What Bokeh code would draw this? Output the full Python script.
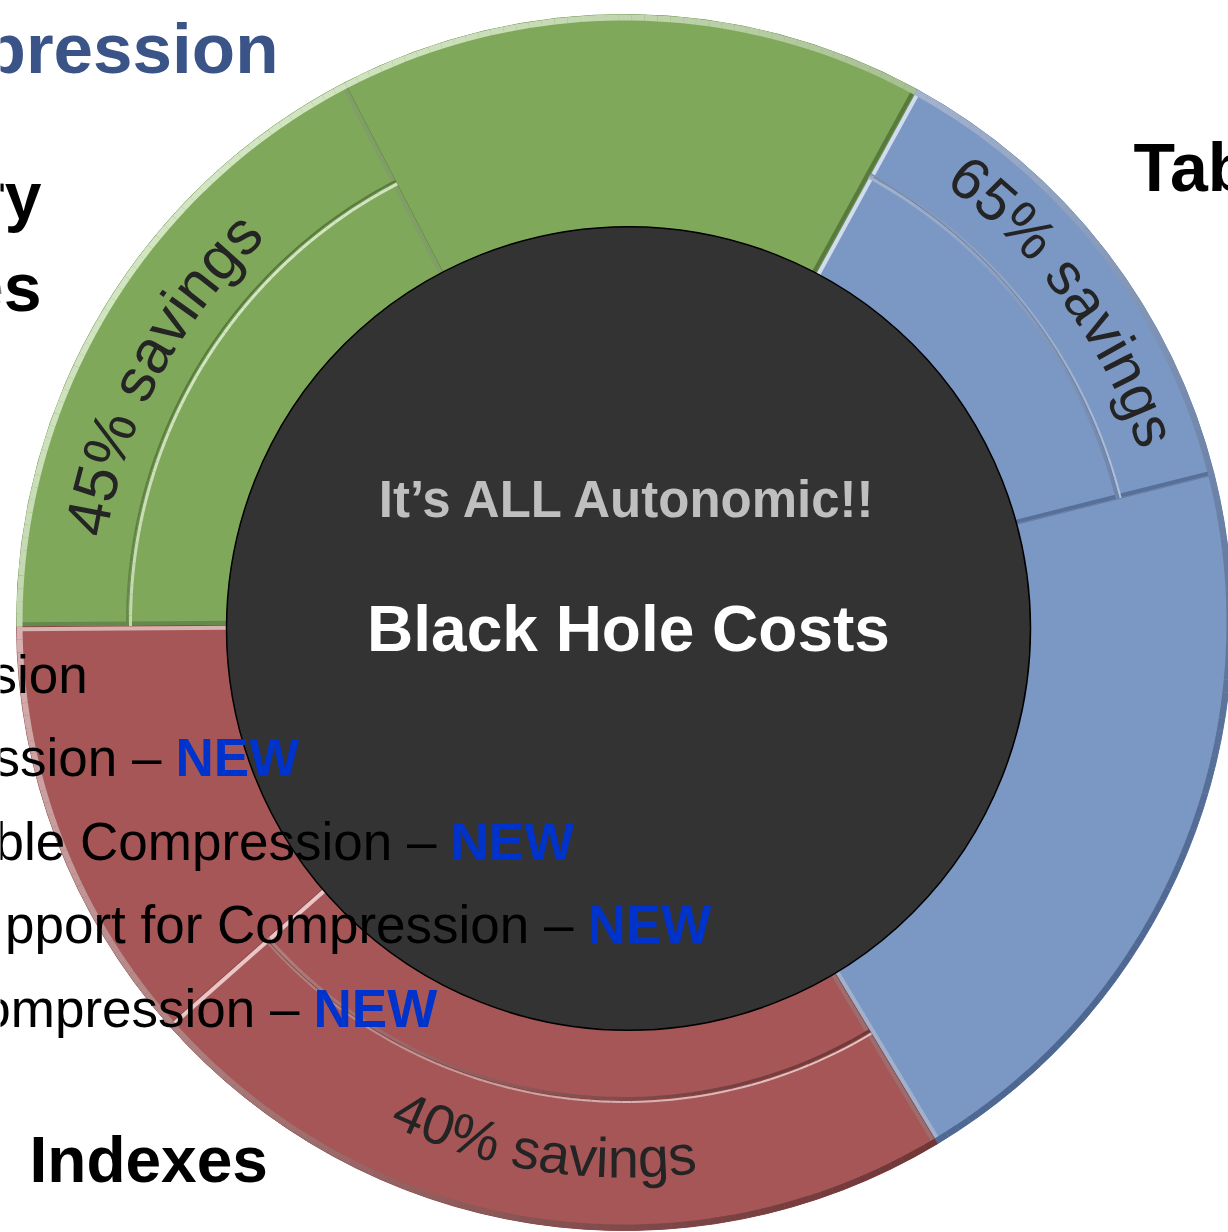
import math
from bokeh.plotting import figure
from bokeh.models import Range1d, ColumnDataSource
from bokeh.core.properties import value
from bokeh.embed import file_html
from bokeh.resources import INLINE

# ---------------- data ----------------
# ring parts, listed anticlockwise starting at the lower right
part_group = ["Tables", "Tables", "Temporary", "Temporary", "Indexes", "Indexes"]
part_kind = ["full", "savings", "full", "savings", "full", "savings"]
part_share = [20.3, 13.1, 15.6, 17.5, 11.4, 22.1]      # percent of the ring

group_names = ["Tables", "Temporary", "Indexes"]
group_savings = [65, 45, 40]                           # "% savings" labels

center_sub = "It\u2019s ALL Autonomic!!"
center_title = "Black Hole Costs"

list_items = ["sion", "ssion \u2013", "ble Compression \u2013",
              "pport for Compression \u2013", "ompression \u2013"]
list_new = ["", "NEW", "NEW", "NEW", "NEW"]

side_labels = ["pression", "ry", "es", "Tab", "Indexes"]

# ---------------- layout / style ----------------
W, H = 1228, 1232
HX, HY = 628.0, H - 628.0          # black hole centre
RX, RY = 624.0, H - 622.0          # ring centre
R_HOLE, R_OUT = 402.0, 608.0
START_DEG = -59.0
LIGHT_DIR = math.radians(135)
BASE_FIX = 0.365                   # baseline correction (fraction of font size)

style = {
    "Tables":    dict(fill="#7B97C3", light="#D4DEEF", dark="#4E6791", split=510.0),
    "Temporary": dict(fill="#80A85A", light="#D3E6C3", dark="#557839", split=496.0),
    "Indexes":   dict(fill="#A65656", light="#EAC6C6", dark="#6E3535", split=478.0),
}

SANS = "Liberation Sans"


def hex2rgb(h):
    return tuple(int(h[i:i + 2], 16) for i in (1, 3, 5))


def blend(c1, c2, t):
    a, b = hex2rgb(c1), hex2rgb(c2)
    return "#%02x%02x%02x" % tuple(int(round(a[i] + (b[i] - a[i]) * t)) for i in range(3))


def lit(normal):
    return (math.cos(normal - LIGHT_DIR) + 1) / 2


p = figure(width=W, height=H, x_range=Range1d(0, W), y_range=Range1d(0, H),
           output_backend="svg", toolbar_location=None, min_border=0)
p.axis.visible = False
p.grid.visible = False
p.outline_line_color = None
p.background_fill_color = "white"
p.border_fill_color = "white"


def label(x, y_pix, text, size, color, align="left", bold=False):
    """Place text whose alphabetic baseline sits at picture row y_pix."""
    p.text(x=[x], y=[H - y_pix + BASE_FIX * size], text=[text], text_align=align,
           text_baseline="alphabetic", text_font=value(SANS),
           text_font_style="bold" if bold else "normal",
           text_font_size="%dpx" % size, text_color=color)


# angular bounds of each part
total = sum(part_share)
bounds = []
a = math.radians(START_DEG)
for s in part_share:
    b = a + 2 * math.pi * s / total
    bounds.append((a, b))
    a = b

# ---------------- wedges ----------------
wd = dict(x=[], y=[], ri=[], ro=[], a0=[], a1=[], c=[], lc=[])
for (a0, a1), g, k in zip(bounds, part_group, part_kind):
    st = style[g]
    bands = [(R_HOLE - 30, R_OUT)] if k == "full" else [(R_HOLE - 30, st["split"]), (st["split"], R_OUT)]
    for ri, ro in bands:
        wd["x"].append(RX); wd["y"].append(RY)
        wd["ri"].append(ri); wd["ro"].append(ro)
        wd["a0"].append(a0); wd["a1"].append(a1)
        wd["c"].append(st["fill"]); wd["lc"].append(blend(st["fill"], st["dark"], 0.5))
p.annular_wedge(x="x", y="y", inner_radius="ri", outer_radius="ro", start_angle="a0",
                end_angle="a1", fill_color="c", line_color="lc", line_width=1,
                source=ColumnDataSource(wd))

# ---------------- bevel edges ----------------
def new_edges():
    return dict(xs=[], ys=[], c=[], w=[])


def arc_edges(E, r, a0, a1, outward, st, width):
    n = max(2, int(abs(a1 - a0) / math.radians(1.2)))
    for i in range(n):
        t0 = a0 + (a1 - a0) * i / n
        t1 = a0 + (a1 - a0) * (i + 1) / n
        tm = (t0 + t1) / 2
        normal = tm if outward else tm + math.pi
        E["xs"].append([RX + r * math.cos(t0), RX + r * math.cos(t1)])
        E["ys"].append([RY + r * math.sin(t0), RY + r * math.sin(t1)])
        E["c"].append(blend(st["dark"], st["light"], lit(normal)))
        E["w"].append(width)


def radial_edge(E, phi, r0, r1, side, st, width):
    normal = phi - side * math.pi / 2
    off = width / 2 + 0.5
    ox = off * math.cos(phi + side * math.pi / 2)
    oy = off * math.sin(phi + side * math.pi / 2)
    E["xs"].append([RX + r0 * math.cos(phi) + ox, RX + r1 * math.cos(phi) + ox])
    E["ys"].append([RY + r0 * math.sin(phi) + oy, RY + r1 * math.sin(phi) + oy])
    E["c"].append(blend(st["dark"], st["light"], lit(normal)))
    E["w"].append(width)


E1, E2 = new_edges(), new_edges()
n_parts = len(bounds)
for i, ((a0, a1), g, k) in enumerate(zip(bounds, part_group, part_kind)):
    st = style[g]
    E = E1 if k == "full" else E2
    if k == "full":
        bands = [(R_HOLE - 10, R_OUT)]
    else:
        bands = [(R_HOLE - 10, st["split"]), (st["split"], R_OUT)]
    prev_g = part_group[(i - 1) % n_parts]
    next_g = part_group[(i + 1) % n_parts]
    for ri, ro in bands:
        # a full part's side that touches its own savings part is hidden
        if not (k == "full" and prev_g == g):
            radial_edge(E, a0, ri, ro - 2, +1, st, 4)
        if not (k == "full" and next_g == g):
            radial_edge(E, a1, ri, ro - 2, -1, st, 4)
    arc_edges(E, R_OUT - 3, a0, a1, True, st, 6)
    if k == "savings":
        arc_edges(E, st["split"] - 2, a0, a1, True, st, 3)
        arc_edges(E, st["split"] + 1.5, a0, a1, False, st, 2)

for E in (E1, E2):
    p.multi_line(xs="xs", ys="ys", line_color="c", line_width="w",
                 source=ColumnDataSource(E))

# ---------------- black hole ----------------
p.circle(x=[HX], y=[HY], radius=R_HOLE, fill_color="#333333",
         line_color="#000000", line_width=1.5)

# ---------------- curved "% savings" labels ----------------
CW = {"0": .556, "1": .556, "2": .556, "3": .556, "4": .556, "5": .556, "6": .556,
      "7": .556, "8": .556, "9": .556, "%": .889, " ": .278, "s": .5, "a": .556,
      "v": .5, "i": .222, "n": .556, "g": .556}
# baseline radius, reads clockwise?, angular shift (deg), font size
label_geom = {"Tables": (541.0, True, -1.5, 59),
              "Temporary": (524.0, True, 3.0, 61),
              "Indexes": (556.0, False, 0.0, 56)}

cd = dict(x=[], y=[], t=[], ang=[], fs=[])
for (a0, a1), g, k in zip(bounds, part_group, part_kind):
    if k != "savings":
        continue
    txt = "%d%% savings" % group_savings[group_names.index(g)]
    r, clockwise, shift, size = label_geom[g]
    mid = (a0 + a1) / 2 + math.radians(shift)
    tot = sum(CW[c] for c in txt) * size
    cum = 0.0
    for ch in txt:
        w = CW[ch] * size
        s = cum + w / 2 - tot / 2
        cum += w
        if ch == " ":
            continue
        if clockwise:
            phi = mid - s / r
            rot = phi - math.pi / 2
        else:
            phi = mid + s / r
            rot = phi + math.pi / 2
        fix = BASE_FIX * size
        cd["x"].append(RX + r * math.cos(phi) - fix * math.sin(rot))
        cd["y"].append(RY + r * math.sin(phi) + fix * math.cos(rot))
        cd["t"].append(ch)
        cd["ang"].append(rot)
        cd["fs"].append("%dpx" % size)
p.text(x="x", y="y", text="t", angle="ang", source=ColumnDataSource(cd),
       text_align="center", text_baseline="alphabetic", text_font=value(SANS),
       text_font_size="fs", text_color="#242424")

# ---------------- centre texts ----------------
label(HX, 518, center_sub, 51, "#BFBFBF", align="center", bold=True)
label(HX, 652, center_title, 64, "#FFFFFF", align="center", bold=True)

# ---------------- bullet list ----------------
new_x = [None, 175, 450, 587, 313]
for i, (item, nw) in enumerate(zip(list_items, list_new)):
    yb = 693 + i * 83.5
    if nw:
        label(new_x[i] - 14, yb, item, 53, "#000000", align="right")
        label(new_x[i], yb, nw, 53, "#0033CC", align="left", bold=True)
    else:
        label(-10, yb, item, 53, "#000000", align="left")

# ---------------- side labels ----------------
label(278, 74, side_labels[0], 71, "#3B5488", align="right", bold=True)
label(41, 220, side_labels[1], 66, "#000000", align="right", bold=True)
label(41, 311, side_labels[2], 68, "#000000", align="right", bold=True)
label(1133, 191, side_labels[3], 68, "#000000", align="left", bold=True)
label(29, 1183, side_labels[4], 64, "#000000", align="left", bold=True)

open("out.html", "w").write(file_html(p, INLINE))
